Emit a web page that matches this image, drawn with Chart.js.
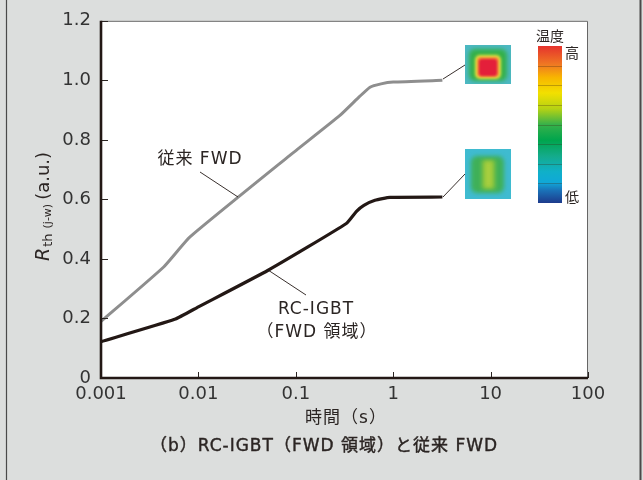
<!DOCTYPE html>
<html>
<head>
<meta charset="utf-8">
<script src="https://cdn.jsdelivr.net/npm/chart.js@4.4.1/dist/chart.umd.min.js"></script>
<style>
html,body{margin:0;padding:0;background:#dcdedd;}
#wrap{width:643px;height:480px;position:relative;}
</style>
</head>
<body>
<div id="wrap"><canvas id="c" width="643" height="480"></canvas></div>
<script>
// ---- data ----
const timeFWD = [0.001, 0.0044, 0.0082, 0.087, 0.284, 0.45, 0.578, 0.75, 1.0, 3.2];
const rthFWD  = [0.19, 0.373, 0.474, 0.748, 0.882, 0.945, 0.977, 0.988, 0.994, 1.0];
const timeRC  = [0.001, 0.0057, 0.01, 0.052, 0.33, 0.42, 0.5, 0.65, 0.927, 3.2];
const rthRC   = [0.122, 0.197, 0.239, 0.362, 0.519, 0.56, 0.58, 0.597, 0.607, 0.608];
const xTicks = [0.001, 0.01, 0.1, 1, 10, 100];
const xTickLabels = ['0.001', '0.01', '0.1', '1', '10', '100'];
const yTicks = [0, 0.2, 0.4, 0.6, 0.8, 1.0, 1.2];
const yTickLabels = ['0', '0.2', '0.4', '0.6', '0.8', '1.0', '1.2'];
const seriesNames = ['従来 FWD', 'RC-IGBT（FWD 領域）'];
const xTitle = '時間（s）';
const caption = '（b）RC-IGBT（FWD 領域）と従来 FWD';

const TXT = '#2b2523';
const JP = '"DejaVu Sans", "Noto Sans CJK JP", sans-serif';
const NUM = '"DejaVu Sans", "Noto Sans", sans-serif';

function rrect(ctx, x, y, w, h, r) {
  ctx.beginPath();
  ctx.moveTo(x + r, y);
  ctx.arcTo(x + w, y, x + w, y + h, r);
  ctx.arcTo(x + w, y + h, x, y + h, r);
  ctx.arcTo(x, y + h, x, y, r);
  ctx.arcTo(x, y, x + w, y, r);
  ctx.closePath();
}

const deco = {
  id: 'deco',
  beforeDraw(chart) {
    const ctx = chart.ctx;
    ctx.save();
    ctx.fillStyle = '#dcdedd';
    ctx.fillRect(0, 0, 643, 480);
    const a = chart.chartArea;
    ctx.fillStyle = '#ffffff';
    ctx.fillRect(a.left, a.top, a.right - a.left, a.bottom - a.top);
    ctx.strokeStyle = '#4a4a4a';
    ctx.lineWidth = 1.2;
    ctx.beginPath(); ctx.moveTo(6.5, 0); ctx.lineTo(6.5, 480); ctx.stroke();
    ctx.lineWidth = 2;
    ctx.beginPath(); ctx.moveTo(640.5, 0); ctx.lineTo(640.5, 480); ctx.stroke();
    ctx.restore();
  },
  afterDatasetsDraw(chart) {
    const ctx = chart.ctx;
    const a = chart.chartArea;
    const xs = chart.scales.x, ys = chart.scales.y;
    ctx.save();
    ctx.strokeStyle = '#666';
    ctx.lineWidth = 1;
    ctx.beginPath();
    ctx.moveTo(a.left, a.top + 0.5); ctx.lineTo(a.right - 0.5, a.top + 0.5); ctx.lineTo(a.right - 0.5, a.bottom);
    ctx.stroke();
    ctx.strokeStyle = TXT;
    ctx.lineWidth = 1;
    xTicks.forEach(v => {
      const px = Math.round(xs.getPixelForValue(v)) + 0.5;
      ctx.beginPath(); ctx.moveTo(px, a.bottom); ctx.lineTo(px, a.bottom - 6); ctx.stroke();
    });
    yTicks.forEach(v => {
      const py = Math.round(ys.getPixelForValue(v)) + 0.5;
      ctx.beginPath(); ctx.moveTo(a.left, py); ctx.lineTo(a.left + 7, py); ctx.stroke();
    });
    ctx.strokeStyle = '#231815';
    ctx.lineWidth = 2.6;
    ctx.beginPath();
    ctx.moveTo(a.left, a.top); ctx.lineTo(a.left, a.bottom); ctx.lineTo(a.right, a.bottom);
    ctx.stroke();

    ctx.strokeStyle = '#231815';
    ctx.lineWidth = 0.9;
    const lead = (x1, y1, x2, y2) => { ctx.beginPath(); ctx.moveTo(x1, y1); ctx.lineTo(x2, y2); ctx.stroke(); };
    lead(200, 172, 238, 197);
    lead(268, 270, 306, 295);
    lead(443, 79, 465, 65);
    lead(443, 197, 465, 174);

    ctx.fillStyle = TXT;
    ctx.textAlign = 'center';
    ctx.textBaseline = 'middle';
    ctx.font = '17px ' + JP;
    ctx.letterSpacing = '1px';
    ctx.fillText(seriesNames[0], 200, 160);
    ctx.fillText('RC-IGBT', 316, 310);
    ctx.fillText('（FWD 領域）', 317, 333);
    ctx.letterSpacing = '0px';

    // top heat map
    ctx.fillStyle = '#4cb8c2';
    ctx.fillRect(465, 45, 46, 39);
    ctx.save();
    ctx.beginPath(); ctx.rect(465, 45, 46, 39); ctx.clip();
    ctx.filter = 'blur(2px)';
    ctx.fillStyle = '#34b04a'; rrect(ctx, 469, 49, 38, 32, 6); ctx.fill();
    ctx.filter = 'blur(1.5px)';
    ctx.fillStyle = '#e9e23e'; rrect(ctx, 475, 55, 26, 24, 5); ctx.fill();
    ctx.filter = 'blur(1px)';
    ctx.fillStyle = '#f0883a'; rrect(ctx, 477, 57, 22, 20, 4); ctx.fill();
    ctx.fillStyle = '#e41f3a'; rrect(ctx, 479, 59, 18, 17, 3); ctx.fill();
    ctx.restore();

    // bottom heat map
    ctx.fillStyle = '#3fbbd0';
    ctx.fillRect(465, 149, 46, 50);
    ctx.save();
    ctx.beginPath(); ctx.rect(465, 149, 46, 50); ctx.clip();
    ctx.filter = 'blur(2px)';
    ctx.fillStyle = '#3fb058'; rrect(ctx, 471, 156, 33, 37, 6); ctx.fill();
    ctx.fillStyle = '#8cc63c'; ctx.fillRect(482, 160, 13, 29);
    ctx.fillStyle = '#b0d040'; ctx.fillRect(486, 162, 5, 25);
    ctx.restore();

    // color bar
    const cb = {x: 538, y: 46, w: 24, h: 157};
    const g = ctx.createLinearGradient(0, cb.y, 0, cb.y + cb.h);
    const stops = [
      [0.0, '#e5322d'], [0.12, '#f07a22'], [0.2, '#f8b500'], [0.3, '#f2e000'],
      [0.4, '#b5d214'], [0.5, '#37b14a'], [0.6, '#00a54d'], [0.7, '#14ab8a'],
      [0.8, '#10b0c8'], [0.87, '#10a8d8'], [0.92, '#1a72b8'], [1.0, '#1d3a8c']
    ];
    stops.forEach(s => g.addColorStop(s[0], s[1]));
    ctx.fillStyle = g;
    ctx.fillRect(cb.x, cb.y, cb.w, cb.h);
    ctx.strokeStyle = 'rgba(60,40,20,0.3)';
    ctx.lineWidth = 1;
    for (let i = 1; i < 8; i++) {
      const yy = Math.round(cb.y + cb.h * i / 8) + 0.5;
      ctx.beginPath(); ctx.moveTo(cb.x, yy); ctx.lineTo(cb.x + cb.w, yy); ctx.stroke();
    }
    ctx.fillStyle = TXT;
    ctx.font = '14px ' + JP;
    ctx.textAlign = 'center';
    ctx.fillText('温度', 550, 37);
    ctx.fillText('高', 572, 54);
    ctx.fillText('低', 572, 198);

    ctx.font = '17px ' + JP;
    ctx.letterSpacing = '1px';
    ctx.fillText(xTitle, 346, 419);
    ctx.fillText(caption, 324, 447);
    ctx.strokeStyle = TXT;
    ctx.lineWidth = 0.4;
    ctx.strokeText(caption, 324, 447);
    ctx.letterSpacing = '0px';

    ctx.translate(42, 261);
    ctx.rotate(-Math.PI / 2);
    ctx.textAlign = 'left';
    ctx.textBaseline = 'alphabetic';
    let x = 0;
    ctx.font = 'italic 19px ' + NUM;
    ctx.fillText('R', x, 7); x += ctx.measureText('R').width + 1;
    ctx.font = '13px ' + NUM;
    ctx.fillText('th', x, 10); x += ctx.measureText('th').width + 5;
    ctx.font = '11px ' + NUM;
    ctx.fillText('(j-w)', x, 9); x += ctx.measureText('(j-w)').width + 4;
    ctx.font = '18px ' + NUM;
    ctx.fillText('(a.u.)', x, 7);
    ctx.restore();
  }
};

new Chart(document.getElementById('c'), {
  type: 'line',
  data: {
    datasets: [
      {
        label: seriesNames[0],
        data: timeFWD.map((t, i) => ({x: t, y: rthFWD[i]})),
        borderColor: '#8e8e8e', borderWidth: 3, pointRadius: 0,
        tension: 0.15, fill: false
      },
      {
        label: seriesNames[1],
        data: timeRC.map((t, i) => ({x: t, y: rthRC[i]})),
        borderColor: '#231815', borderWidth: 3.2, pointRadius: 0,
        tension: 0.15, fill: false
      }
    ]
  },
  options: {
    responsive: false,
    animation: false,
    devicePixelRatio: 1,
    layout: {padding: {left: 0, top: 20, right: 55, bottom: 0}},
    plugins: {legend: {display: false}, tooltip: {enabled: false}},
    scales: {
      x: {
        type: 'logarithmic', min: 0.001, max: 100,
        afterFit: s => { s.height = 102; },
        afterBuildTicks: s => { s.ticks = xTicks.map(v => ({value: v})); },
        grid: {display: false, drawTicks: false},
        border: {display: false},
        ticks: {
          autoSkip: false, maxRotation: 0, padding: 6, color: '#333',
          font: {family: NUM, size: 18},
          callback: (v) => { const i = xTicks.indexOf(v); return i >= 0 ? xTickLabels[i] : ''; }
        }
      },
      y: {
        type: 'linear', min: 0, max: 1.2,
        afterFit: s => { s.width = 101; },
        afterBuildTicks: s => { s.ticks = yTicks.map(v => ({value: v})); },
        grid: {display: false, drawTicks: false},
        border: {display: false},
        ticks: {
          padding: 10, color: '#333',
          font: {family: NUM, size: 18},
          callback: (v) => { const i = yTicks.findIndex(t => Math.abs(t - v) < 1e-9); return i >= 0 ? yTickLabels[i] : ''; }
        }
      }
    }
  },
  plugins: [deco]
});
</script>
</body>
</html>
